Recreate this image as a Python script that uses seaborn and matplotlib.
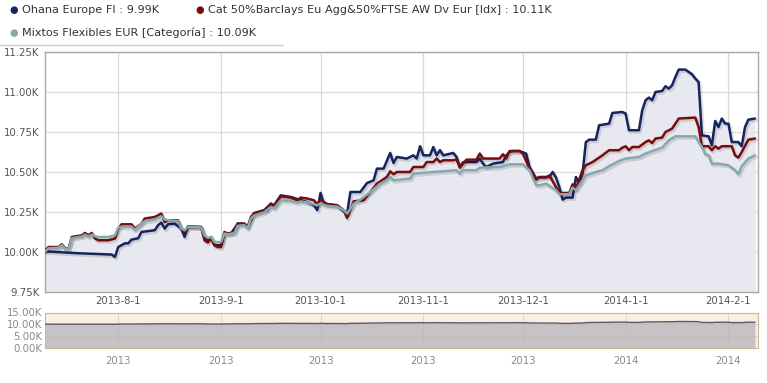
import matplotlib
matplotlib.use("Agg")
import matplotlib.pyplot as plt
import matplotlib.dates as mdates
import matplotlib.patheffects as pe
from matplotlib.ticker import FuncFormatter, FixedLocator
import seaborn as sns
import pandas as pd

# ---------------- data ----------------
ohana_dates = ["2013-07-10","2013-07-20","2013-07-30","2013-07-31","2013-08-01","2013-08-03","2013-08-04","2013-08-05","2013-08-07","2013-08-08",
"2013-08-12","2013-08-13","2013-08-14","2013-08-15","2013-08-16","2013-08-18","2013-08-20","2013-08-21","2013-08-22","2013-08-26",
"2013-08-27","2013-08-28","2013-08-29","2013-08-30","2013-09-01","2013-09-02","2013-09-04","2013-09-06","2013-09-08","2013-09-09",
"2013-09-11","2013-09-14","2013-09-16","2013-09-17","2013-09-19","2013-09-22","2013-09-27","2013-09-29","2013-09-30","2013-10-01",
"2013-10-02","2013-10-06","2013-10-07","2013-10-09","2013-10-10","2013-10-13","2013-10-15","2013-10-17","2013-10-18","2013-10-20",
"2013-10-22","2013-10-23","2013-10-24","2013-10-27","2013-10-29","2013-10-30","2013-10-31","2013-11-01","2013-11-03","2013-11-04",
"2013-11-05","2013-11-06","2013-11-07","2013-11-10","2013-11-11","2013-11-12","2013-11-13","2013-11-17","2013-11-18","2013-11-19",
"2013-11-20","2013-11-22","2013-11-25","2013-11-26","2013-11-27","2013-11-28","2013-11-30","2013-12-02","2013-12-03","2013-12-05",
"2013-12-06","2013-12-09","2013-12-10","2013-12-11","2013-12-12","2013-12-13","2013-12-14","2013-12-16","2013-12-17","2013-12-18",
"2013-12-19","2013-12-20","2013-12-21","2013-12-23","2013-12-24","2013-12-27","2013-12-28","2013-12-31","2014-01-01","2014-01-02",
"2014-01-05","2014-01-06","2014-01-07","2014-01-08","2014-01-09","2014-01-10","2014-01-12","2014-01-13","2014-01-14","2014-01-15",
"2014-01-16","2014-01-17","2014-01-19","2014-01-21","2014-01-22","2014-01-23","2014-01-24","2014-01-26","2014-01-27","2014-01-28",
"2014-01-29","2014-01-30","2014-01-31","2014-02-01","2014-02-02","2014-02-04","2014-02-05","2014-02-06","2014-02-07","2014-02-09"]
ohana_values = [10006,9994,9986,9971,10033,10056,10056,10079,10088,10127,
10138,10169,10186,10148,10175,10179,10148,10096,10163,10158,
10096,10075,10096,10044,10044,10117,10117,10179,10179,10158,
10242,10263,10304,10294,10356,10346,10314,10294,10263,10371,
10304,10294,10273,10242,10377,10377,10433,10450,10523,10523,
10621,10558,10596,10586,10606,10586,10663,10606,10606,10658,
10606,10638,10606,10621,10596,10533,10564,10564,10586,10554,
10533,10554,10564,10606,10627,10633,10633,10617,10533,10461,
10471,10471,10502,10467,10408,10329,10342,10342,10471,10429,
10492,10689,10704,10704,10794,10804,10871,10877,10867,10763,
10763,10888,10950,10967,10950,11002,11008,11038,11023,11044,
11096,11142,11142,11113,11086,11064,10731,10725,10669,10821,
10783,10836,10804,10804,10689,10689,10663,10783,10829,10836]

cat_dates = ["2013-07-10","2013-07-11","2013-07-14","2013-07-15","2013-07-16","2013-07-17","2013-07-18","2013-07-21","2013-07-22","2013-07-23",
"2013-07-24","2013-07-25","2013-07-26","2013-07-29","2013-07-31","2013-08-01","2013-08-02","2013-08-05","2013-08-06","2013-08-08",
"2013-08-09","2013-08-12","2013-08-14","2013-08-15","2013-08-16","2013-08-19","2013-08-20","2013-08-21","2013-08-22","2013-08-26",
"2013-08-27","2013-08-28","2013-08-29","2013-08-30","2013-08-31","2013-09-01","2013-09-02","2013-09-03","2013-09-05","2013-09-06",
"2013-09-08","2013-09-09","2013-09-10","2013-09-11","2013-09-14","2013-09-15","2013-09-16","2013-09-17","2013-09-19","2013-09-22",
"2013-09-24","2013-09-25","2013-09-27","2013-09-29","2013-09-30","2013-10-01","2013-10-03","2013-10-06","2013-10-08","2013-10-09",
"2013-10-11","2013-10-14","2013-10-16","2013-10-18","2013-10-21","2013-10-22","2013-10-23","2013-10-24","2013-10-28","2013-10-29",
"2013-11-01","2013-11-02","2013-11-04","2013-11-05","2013-11-06","2013-11-07","2013-11-10","2013-11-11","2013-11-12","2013-11-14",
"2013-11-17","2013-11-18","2013-11-19","2013-11-24","2013-11-25","2013-11-26","2013-11-27","2013-11-30","2013-12-01","2013-12-03",
"2013-12-05","2013-12-06","2013-12-08","2013-12-09","2013-12-11","2013-12-12","2013-12-15","2013-12-16","2013-12-17","2013-12-19",
"2013-12-20","2013-12-22","2013-12-25","2013-12-27","2013-12-30","2013-12-31","2014-01-01","2014-01-02","2014-01-03","2014-01-05",
"2014-01-07","2014-01-08","2014-01-09","2014-01-10","2014-01-12","2014-01-13","2014-01-15","2014-01-17","2014-01-22","2014-01-23",
"2014-01-24","2014-01-26","2014-01-27","2014-01-28","2014-01-29","2014-01-30","2014-02-02","2014-02-03","2014-02-04","2014-02-05",
"2014-02-07","2014-02-09"]
cat_values = [10013,10033,10033,10050,10023,10023,10096,10106,10121,10106,
10121,10086,10075,10075,10086,10148,10175,10175,10148,10179,
10211,10221,10242,10189,10200,10200,10148,10127,10158,10158,
10075,10061,10086,10044,10033,10033,10127,10117,10127,10179,
10179,10158,10221,10246,10263,10263,10304,10283,10350,10342,
10325,10342,10336,10325,10300,10329,10300,10294,10263,10214,
10319,10325,10377,10429,10471,10506,10488,10502,10502,10533,
10533,10564,10564,10586,10564,10575,10575,10581,10529,10579,
10579,10617,10586,10586,10613,10586,10633,10633,10617,10523,
10454,10467,10467,10481,10408,10371,10371,10425,10398,10513,
10544,10564,10606,10638,10638,10654,10663,10638,10658,10658,
10689,10700,10683,10711,10717,10752,10773,10836,10842,10783,
10663,10663,10638,10663,10648,10663,10663,10606,10592,10627,
10704,10711]

mix_dates = ["2013-07-10","2013-07-11","2013-07-14","2013-07-15","2013-07-16","2013-07-17","2013-07-18","2013-07-21","2013-07-22","2013-07-23",
"2013-07-24","2013-07-25","2013-07-26","2013-07-29","2013-07-31","2013-08-01","2013-08-02","2013-08-05","2013-08-06","2013-08-08",
"2013-08-09","2013-08-12","2013-08-14","2013-08-15","2013-08-16","2013-08-19","2013-08-20","2013-08-21","2013-08-22","2013-08-26",
"2013-08-27","2013-08-28","2013-08-29","2013-08-30","2013-09-01","2013-09-02","2013-09-03","2013-09-05","2013-09-06","2013-09-08",
"2013-09-09","2013-09-10","2013-09-11","2013-09-14","2013-09-16","2013-09-17","2013-09-19","2013-09-22","2013-09-24","2013-09-25",
"2013-09-27","2013-09-29","2013-09-30","2013-10-01","2013-10-03","2013-10-06","2013-10-08","2013-10-09","2013-10-11","2013-10-13",
"2013-10-16","2013-10-19","2013-10-21","2013-10-22","2013-10-23","2013-10-28","2013-10-29","2013-11-04","2013-11-11","2013-11-12",
"2013-11-13","2013-11-17","2013-11-18","2013-11-24","2013-11-26","2013-11-27","2013-12-01","2013-12-03","2013-12-05","2013-12-06",
"2013-12-08","2013-12-11","2013-12-12","2013-12-15","2013-12-16","2013-12-17","2013-12-20","2013-12-23","2013-12-25","2013-12-27",
"2013-12-30","2014-01-01","2014-01-05","2014-01-07","2014-01-09","2014-01-12","2014-01-14","2014-01-16","2014-01-22","2014-01-24",
"2014-01-25","2014-01-26","2014-01-27","2014-01-29","2014-02-01","2014-02-03","2014-02-04","2014-02-05","2014-02-07","2014-02-09"]
mix_values = [10006,10025,10028,10044,10020,10020,10088,10098,10110,10098,
10110,10100,10096,10096,10106,10155,10160,10160,10140,10180,
10195,10205,10225,10205,10200,10195,10150,10137,10160,10155,
10106,10090,10096,10064,10064,10117,10112,10120,10165,10170,
10150,10211,10230,10250,10283,10275,10325,10320,10310,10318,
10312,10300,10294,10305,10290,10285,10263,10242,10304,10329,
10377,10429,10450,10471,10450,10461,10492,10502,10513,10492,
10513,10513,10529,10533,10544,10550,10550,10513,10419,10419,
10429,10388,10363,10363,10404,10388,10481,10502,10513,10538,
10571,10586,10596,10617,10633,10654,10700,10725,10725,10658,
10613,10606,10554,10554,10544,10513,10488,10538,10586,10606]

series_names = ["Ohana Europe FI", "Cat 50%Barclays Eu Agg&50%FTSE AW Dv Eur [Idx]", "Mixtos Flexibles EUR [Categoría]"]
legend_values = ["9.99K", "10.11K", "10.09K"]
main_yticks = [9750, 10000, 10250, 10500, 10750, 11000, 11250]
nav_yticks = [0, 5000, 10000, 15000]
month_ticks = ["2013-08-01","2013-09-01","2013-10-01","2013-11-01","2013-12-01","2014-01-01","2014-02-01"]
x_start, x_end = "2013-07-10", "2014-02-10"

colors = ["#16245f", "#7a0c0e", "#86a9b0"]

# ---------------- figure ----------------
sns.set_style("white")
plt.rcParams['font.family'] = ['DejaVu Sans']
fig = plt.figure(figsize=(7.67, 3.83), dpi=100)
W, H = 767, 383
def box(x0, y0, x1, y1):
    return [x0 / W, 1 - y1 / H, (x1 - x0) / W, (y1 - y0) / H]

ax = fig.add_axes(box(45.3, 52.3, 758.3, 292.3))
nav = fig.add_axes(box(45.3, 312.5, 758.3, 347.5))

frames = []
for name, d, v in zip(series_names, [ohana_dates, cat_dates, mix_dates], [ohana_values, cat_values, mix_values]):
    frames.append(pd.DataFrame({"date": pd.to_datetime(d), "value": v, "series": name}))

fill_col = "#e8e9f0"
for df in frames:
    ax.fill_between(df["date"], df["value"], 9750, color=fill_col, lw=0, zorder=1)

for df, c in zip(frames, colors):
    sns.lineplot(data=df, x="date", y="value", ax=ax, color=c, lw=1.8, zorder=3, legend=False)
    ax.lines[-1].set_path_effects([pe.SimpleLineShadow(offset=(1.0, -1.2), shadow_color="#000000", alpha=0.12, linewidth=2.6),
                                   pe.Normal()])

ax.set_xlim(pd.Timestamp(x_start), pd.Timestamp(x_end))
ax.set_ylim(9750, 11250)
ax.yaxis.set_major_locator(FixedLocator(main_yticks))
ax.yaxis.set_major_formatter(FuncFormatter(lambda v, p: f"{v/1000:.2f}K"))
mt = [mdates.date2num(pd.Timestamp(m)) for m in month_ticks]
ax.xaxis.set_major_locator(FixedLocator(mt))
ax.xaxis.set_major_formatter(FuncFormatter(lambda v, p: (lambda d: f"{d.year}-{d.month}-{d.day}")(mdates.num2date(v))))
ax.grid(True, color="#d9d9d9", lw=0.9)
ax.set_axisbelow(True)
ax.set_xlabel("")
ax.set_ylabel("")
for s in ax.spines.values():
    s.set_color("#a8a8a8")
    s.set_linewidth(1.0)
ax.tick_params(axis="both", length=0, labelsize=7.3, colors="#555555")
ax.tick_params(axis="y", pad=4)
ax.tick_params(axis="x", pad=3)

# ---------------- navigator ----------------
nav.set_facecolor("#f8efdf")
nd = frames[0]
nav.fill_between(nd["date"], nd["value"], 0, color="#c6c3c6", lw=0, zorder=2)
sns.lineplot(data=nd, x="date", y="value", ax=nav, color="#5d5677", lw=1.0, zorder=3, legend=False)
nav.set_xlim(pd.Timestamp(x_start), pd.Timestamp(x_end))
nav.set_ylim(0, 15000)
nav.yaxis.set_major_locator(FixedLocator(nav_yticks))
nav.yaxis.set_major_formatter(FuncFormatter(lambda v, p: f"{v/1000:.2f}K"))
nav.xaxis.set_major_locator(FixedLocator(mt))
nav.xaxis.set_major_formatter(FuncFormatter(lambda v, p: str(mdates.num2date(v).year)))
nav.grid(True, color="#bdb6aa", lw=0.5, alpha=0.6)
nav.set_axisbelow(False)
nav.set_xlabel("")
nav.set_ylabel("")
for s in nav.spines.values():
    s.set_color("#c9b99c")
    s.set_linewidth(0.8)
nav.tick_params(axis="both", length=0, labelsize=7.3, colors="#8a8a8a")
nav.tick_params(axis="y", pad=2)
nav.tick_params(axis="x", pad=6)

# ---------------- legend ----------------
leg_pos = [(9, 10), (195, 10), (9, 33)]
for (x, y), c, name, val in zip(leg_pos, colors, series_names, legend_values):
    fig.text(x / W, 1 - y / H, "●", color=c, fontsize=7, va="center", ha="left")
    fig.text((x + 13) / W, 1 - y / H, f"{name} : {val}", color="#333333", fontsize=8.1, va="center", ha="left")
fig.add_artist(plt.Line2D([0, 283 / W], [1 - 45 / H, 1 - 45 / H], color="#cccccc", lw=1))

fig.savefig("out.png", dpi=100)
